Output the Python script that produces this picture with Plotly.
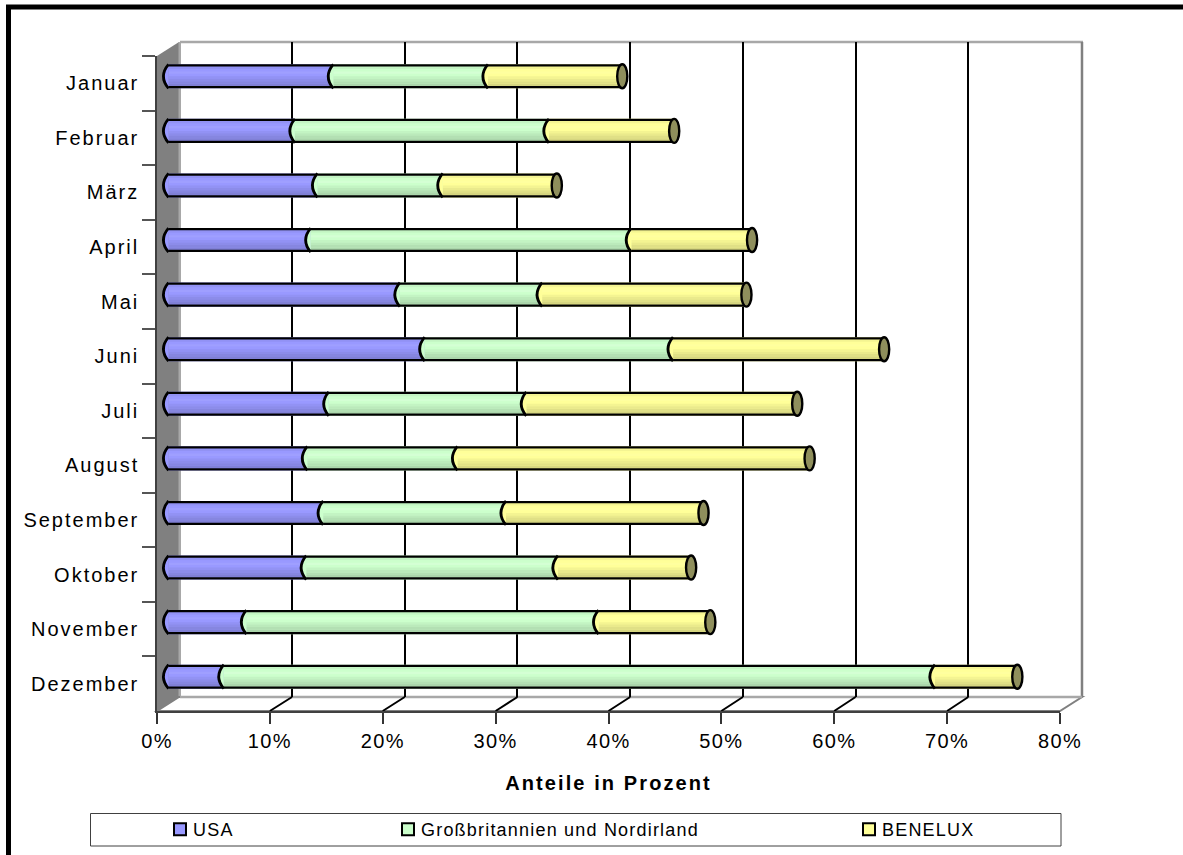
import numpy as np
import plotly.graph_objects as go

months = ["Januar", "Februar", "März", "April", "Mai", "Juni", "Juli", "August",
          "September", "Oktober", "November", "Dezember"]
usa = [14.6, 11.2, 13.2, 12.6, 20.5, 22.7, 14.2, 12.3, 13.7, 12.2, 6.9, 4.9]
gb = [13.7, 22.5, 11.1, 28.4, 12.6, 22.0, 17.5, 13.3, 16.2, 22.3, 31.2, 63.0]
benelux = [11.9, 11.1, 10.1, 10.7, 18.1, 18.7, 24.0, 31.2, 17.5, 11.8, 9.9, 7.3]
x_ticks = [0, 10, 20, 30, 40, 50, 60, 70, 80]
x_labels = ["0%", "10%", "20%", "30%", "40%", "50%", "60%", "70%", "80%"]

names = ["USA", "Großbritannien und Nordirland", "BENELUX"]
series = [usa, gb, benelux]
colors = ["#9999ff", "#ccffcc", "#ffff99"]
rgb = [(153, 153, 255), (204, 255, 204), (255, 255, 153)]
cap_color = "#8f8f5c"
# shading across the cylinder, top to bottom
shade = [0.96, 1.0, 1.04, 1.0, 0.96, 0.92, 0.88, 0.84]

W, H = 1183, 855
px = lambda x: x / W
py = lambda y: 1 - y / H
FONT = "Liberation Sans, Arial, sans-serif"
BW = 0.44
EDGE = 0.04
CAP = 0.45  # half width of a bar end, in percent
PAD = 5  # percent of room left of zero so the rounded bar ends are not clipped
PER = 903 / 80

fig = go.Figure()

# back plane: carries the gridlines
fig.add_trace(go.Scatter(x=[0], y=[months[0]], xaxis="x", yaxis="y", opacity=0,
                         showlegend=False, hoverinfo="skip"))

starts = np.zeros(len(months))
legends = ["legend", "legend2", "legend3"]
for k, vals in enumerate(series):
    fig.add_trace(go.Bar(y=months, x=vals, base=starts, name=names[k], orientation="h",
                         width=BW, offset=-BW / 2, marker=dict(color=colors[k], line=dict(width=0)),
                         xaxis="x2", yaxis="y2", legend=legends[k], showlegend=True))
    n = len(shade)
    bw = (BW - 2 * EDGE) / n
    for j, s in enumerate(shade):
        c = tuple(min(255, int(v * s)) for v in rgb[k])
        fig.add_trace(go.Bar(y=months, x=vals, base=starts, orientation="h",
                             width=bw + 0.002, offset=-BW / 2 + EDGE + j * bw,
                             marker=dict(color="rgb(%d,%d,%d)" % c, line=dict(width=0)),
                             xaxis="x2", yaxis="y2", showlegend=False, hoverinfo="skip"))
    starts = starts + np.array(vals)
totals = starts
for off in (-BW / 2, BW / 2 - EDGE):
    fig.add_trace(go.Bar(y=months, x=totals, orientation="h", width=EDGE, offset=off,
                         marker=dict(color="#000000", line=dict(width=0)),
                         xaxis="x2", yaxis="y2", showlegend=False, hoverinfo="skip"))

# front plane: carries ticks and labels
fig.add_trace(go.Scatter(x=[0], y=[months[0]], xaxis="x3", yaxis="y3", opacity=0,
                         showlegend=False, hoverinfo="skip"))

shapes = []
GRAY = "#808080"


def poly(points, fill, line=None, width=0, layer="below"):
    path = "M" + " L".join("%.5f,%.5f" % (px(a), py(b)) for a, b in points) + " Z"
    shapes.append(dict(type="path", path=path, xref="paper", yref="paper", fillcolor=fill,
                       line=dict(color=line or fill, width=width), layer=layer))


# frame of the whole picture
shapes.append(dict(type="line", xref="paper", yref="paper", x0=px(8.5), x1=px(8.5), y0=0, y1=py(7),
                   line=dict(color="#000000", width=5), layer="below"))
shapes.append(dict(type="line", xref="paper", yref="paper", x0=px(6), x1=1, y0=py(7), y1=py(7),
                   line=dict(color="#000000", width=5), layer="below"))
# side wall, floor and back frame
poly([(157, 56), (179, 42), (179, 697), (157, 711)], GRAY)
poly([(178.5, 42), (181, 42), (181, 697), (178.5, 697)], "#a8a8a8")
poly([(157, 711), (179, 697), (1082, 697), (1060, 711)], "#ffffff", GRAY, 2)
poly([(180, 42), (1083, 42)], "#ffffff", "#a8a8a8", 2.5)
poly([(1082, 42), (1082, 697)], "#ffffff", GRAY, 2.5)
poly([(180, 697), (1082, 697)], "#ffffff", "#a8a8a8", 2.5)
# floor ticks running from the front axis to the back gridlines
for t in x_ticks[1:-1]:
    xf = 157 + 903 * t / 80
    xb = 179.3 + 901.7 * t / 80
    poly([(xf, 711), (xb, 697)], "#ffffff", "#000000", 2)
# legend box
shapes.append(dict(type="rect", xref="paper", yref="paper", x0=px(90.5), x1=px(1061), y0=py(846), y1=py(813.5),
                   fillcolor="#ffffff", line=dict(color="#404040", width=1), layer="below"))


def bar_end(x, i, fill):
    y0, y1 = i - BW / 2, i + BW / 2
    shapes.append(dict(type="path", xref="x2", yref="y2", layer="above", fillcolor=fill, line=dict(width=0),
                       path=f"M{x:.3f},{y0:.3f} Q{x - 2 * CAP:.3f},{i} {x:.3f},{y1:.3f} Z"))
    shapes.append(dict(type="path", xref="x2", yref="y2", layer="above", fillcolor="rgba(0,0,0,0)",
                       line=dict(color="#000000", width=2.8),
                       path=f"M{x:.3f},{y0:.3f} Q{x - 2 * CAP:.3f},{i} {x:.3f},{y1:.3f}"))


starts = np.zeros(len(months))
for k, vals in enumerate(series):
    for i, s in enumerate(starts):
        bar_end(float(s), i, colors[k])
    starts = starts + np.array(vals)
for i, t in enumerate(totals):
    shapes.append(dict(type="circle", xref="x2", yref="y2", layer="above", fillcolor=cap_color,
                       line=dict(color="#000000", width=2.4),
                       x0=float(t) - CAP, x1=float(t) + CAP, y0=i - BW / 2, y1=i + BW / 2))

rev = [len(months) - 0.5, -0.5]
hidden_y = dict(type="category", categoryorder="array", categoryarray=months, range=rev,
                showgrid=False, zeroline=False, showline=False, ticks="", showticklabels=False)
hidden_x = dict(range=[0, 80], zeroline=False, showline=False, ticks="", showticklabels=False)


def legend_at(x):
    return dict(x=px(x), y=py(829.5), xanchor="left", yanchor="middle", bgcolor="rgba(0,0,0,0)", borderwidth=0,
                font=dict(family=FONT, size=18, color="#000000"), itemclick=False, itemdoubleclick=False,
                tracegroupgap=0)


fig.update_layout(
    width=W, height=H, margin=dict(l=0, r=0, t=0, b=0, autoexpand=False), autosize=False,
    paper_bgcolor="#ffffff", plot_bgcolor="rgba(0,0,0,0)", barmode="overlay",
    font=dict(family=FONT, size=17, color="#000000"), hovermode="closest",
    shapes=shapes,
    xaxis=dict(hidden_x, domain=[px(179.3), px(1081)], anchor="y", showgrid=True, gridcolor="#000000",
               gridwidth=2, tickmode="array", tickvals=x_ticks[1:-1]),
    yaxis=dict(hidden_y, domain=[py(697), py(42)], anchor="x"),
    xaxis2=dict(hidden_x, domain=[px(168.5 - PAD * PER), px(1071.5)], range=[-PAD, 80], anchor="y2", showgrid=False),
    yaxis2=dict(hidden_y, domain=[py(704), py(49)], anchor="x2"),
    xaxis3=dict(domain=[px(157), px(1060)], anchor="y3", range=[0, 80], tickmode="array", tickvals=x_ticks,
                ticktext=x_labels, ticks="outside", ticklen=11, tickwidth=1.5, tickcolor="#333333",
                showline=True, linecolor="#404040", linewidth=1.5, showgrid=False, zeroline=False,
                tickfont=dict(family=FONT, size=20, color="#000000"),
                title=dict(text="<b>Anteile in Prozent</b>", standoff=25,
                           font=dict(family=FONT, size=20, color="#000000"))),
    yaxis3=dict(domain=[py(711), py(56)], anchor="x3", type="category", categoryorder="array",
                categoryarray=months, range=rev, tickson="boundaries", ticks="outside", ticklen=13,
                tickwidth=1.5, tickcolor="#555555", showline=True, linecolor="#404040", linewidth=1.5,
                showgrid=False, zeroline=False, ticklabelstandoff=12,
                tickfont=dict(family=FONT, size=20, color="#000000")),
    legend=legend_at(160), legend2=legend_at(388), legend3=legend_at(849),
)

post = """
document.body.style.margin = '0';
var st = document.createElement('style');
st.textContent = `
 .y3tick text { letter-spacing: 2px !important; }
 .x3tick text { letter-spacing: 1.4px !important; }
 .g-x3title text, .x3title { letter-spacing: 2.1px !important; }
 .legend text, .legend2 text, .legend3 text { letter-spacing: 1.2px !important; transform: translateX(-7px); }
 .legend .scrollbox, .legend2 .scrollbox, .legend3 .scrollbox { clip-path: none !important; }
 .legendpoints path { stroke: #000 !important; stroke-width: 2px !important; }
`;
document.head.appendChild(st);
"""
fig.write_html("out.html", post_script=post, config=dict(displayModeBar=False))
